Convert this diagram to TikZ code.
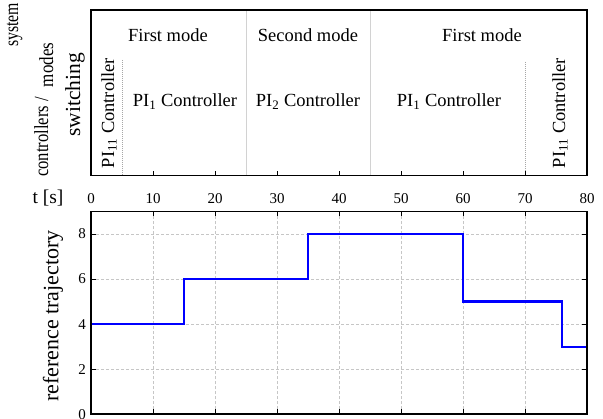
\documentclass[tikz,border=0pt]{standalone}
\usepackage{fontspec}
\setmainfont{Liberation Serif}

\begin{document}
\begin{tikzpicture}[x=1pt, y=-1pt, line join=miter,
  frame/.style={line width=1.6pt},
  ticmark/.style={line width=0.9pt},
  gridline/.style={gray!45, line width=0.7pt, dash pattern=on 3pt off 2pt},
  sepline/.style={gray!35, line width=1.0pt},
  subline/.style={gray!70, line width=0.8pt, dash pattern=on 1pt off 1pt},
  reftraj/.style={blue, line width=2.2pt},
  modetxt/.style={inner sep=0pt, anchor=base, font=\fontsize{18.5}{22}\selectfont},
  numtxt/.style={inner sep=0pt, anchor=base, font=\fontsize{15}{18}\selectfont}]

  %% ════ top panel: switching of modes / controllers ════
  \draw[sepline] (246,10) -- (246,175.7);
  \draw[sepline] (370,10) -- (370,175.7);
  \draw[subline] (122,60) -- (122,175.7);
  \draw[subline] (525.5,62) -- (525.5,175.7);
  \foreach \t in {10,20,...,70}
    \draw[ticmark] ({91+6.2*\t},175.7) -- ++(0,-5);
  \draw[frame] (91,10) rectangle (587,175.7);

  \node[modetxt] (modeA) at (168,42) {First mode};
  \node[modetxt] (modeB) at (308,42) {Second mode};
  \node[modetxt] (modeC) at (482,42) {First mode};
  \node[modetxt] (ctrlA) at (185,107) {PI\textsubscript{1} Controller};
  \node[modetxt] (ctrlB) at (308,107) {PI\textsubscript{2} Controller};
  \node[modetxt] (ctrlC) at (449,107) {PI\textsubscript{1} Controller};
  \node[modetxt, rotate=90] (ctrlL) at (114,113) {PI\textsubscript{11} Controller};
  \node[modetxt, rotate=90] (ctrlR) at (565,113) {PI\textsubscript{11} Controller};

  % left label of the top panel (squeezed along the text, as printed)
  \node[modetxt, rotate=90, font=\fontsize{20}{24}\selectfont] (lblctrl) at (48,137) {\scalebox{0.83}[1]{controllers /}};
  \node[modetxt, rotate=90, font=\fontsize{20}{24}\selectfont] (lblsys) at (18,25) {\scalebox{0.79}[1]{system}};
  \node[modetxt, rotate=90, font=\fontsize{20}{24}\selectfont] (lblmodes) at (53,65) {\scalebox{0.85}[1]{modes}};
  \node[modetxt, rotate=90, font=\fontsize{21.5}{24}\selectfont] (lblswitch) at (80,95) {switching};

  %% ════ time axis between the panels ════
  \node[numtxt, font=\fontsize{19.5}{22}\selectfont] (tlabel) at (48,203.5) {t [s]};
  \foreach \t in {0,10,...,80}
    \node[numtxt] (tk\t) at ({91+6.2*\t},203.5) {\t};

  %% ════ bottom panel: reference trajectory ════
  \begin{scope}[shift={(91pt,-414.3pt)}, x=6.2pt, y=22.54pt]
    \foreach \t in {10,20,...,70}
      \draw[gridline] (\t,0) -- (\t,9);
    \foreach \v in {2,4,6,8}
      \draw[gridline] (0,\v) -- (80,\v);
    \foreach \t in {10,20,...,70} {
      \draw[ticmark] (\t,0) -- ++(0,5pt);
      \draw[ticmark] (\t,9) -- ++(0,-5pt);
    }
    \foreach \v in {2,4,6,8} {
      \draw[ticmark] (0,\v) -- ++(5pt,0);
      \draw[ticmark] (80,\v) -- ++(-5pt,0);
    }
    \foreach \v in {0,2,...,8}
      \node[numtxt, anchor=center] (yl\v) at ([xshift=-9pt]0,\v) {\v};
    \draw[reftraj] (0,4) -- (15,4) -- (15,6) -- (35,6) -- (35,8) -- (60,8)
      -- (60,5) -- (76,5) -- (76,3) -- (80,3);
    \draw[frame] (0,0) rectangle (80,9);
  \end{scope}
  \node[modetxt, anchor=center, rotate=90, font=\fontsize{22}{26}\selectfont] (ylabel) at (53,316) {reference trajectory};

  \pgfresetboundingbox
  \path[use as bounding box] (0,0) rectangle (603,419);
\end{tikzpicture}
\end{document}
